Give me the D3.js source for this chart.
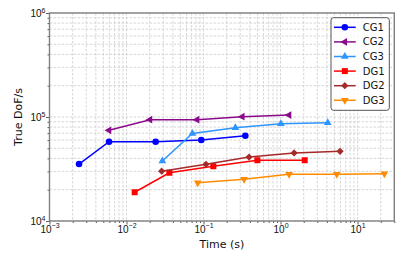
<!DOCTYPE html>
<html>
<head>
<meta charset="utf-8">
<script src="https://cdn.jsdelivr.net/npm/d3@7"></script>
<style>
  body { margin: 0; background: #fff; }
  svg { display: block; font-family: 'DejaVu Sans', sans-serif; }
</style>
</head>
<body>
<div id="chart"></div>
<script>
const WIDTH = 415
const HEIGHT = 260
const margin = { top: 13, right: 20.7, bottom: 39, left: 49.5 }

// data (time in s, true DoF/s)
const seriesNames = ['CG1', 'CG2', 'CG3', 'DG1', 'DG2', 'DG3']
const seriesColors = ['#0000ff', '#8b0a8b', '#2e95ff', '#ff0000', '#a52a2a', '#ff8c00']
const seriesMarkers = ['circle', 'left', 'up', 'square', 'diamond', 'down']

const cg1Time = [0.00242, 0.00593, 0.0239, 0.0935, 0.349]
const cg1Dofs = [35300, 57800, 57800, 60100, 66100]
const cg2Time = [0.00593, 0.0202, 0.0825, 0.319, 1.29]
const cg2Dofs = [74500, 94200, 94200, 100700, 104500]
const cg3Time = [0.0292, 0.0716, 0.259, 1.01, 4.10]
const cg3Dofs = [37800, 69300, 78900, 86300, 88200]
const dg1Time = [0.01276, 0.0360, 0.134, 0.500, 2.06]
const dg1Dofs = [18900, 29100, 33600, 38400, 38400]
const dg2Time = [0.0286, 0.1076, 0.390, 1.50, 5.93]
const dg2Dofs = [30100, 35100, 41200, 45100, 46800]
const dg3Time = [0.0841, 0.336, 1.29, 5.37, 22.3]
const dg3Dofs = [23300, 25200, 28100, 28100, 28500]

const seriesTime = [cg1Time, cg2Time, cg3Time, dg1Time, dg2Time, dg3Time]
const seriesDofs = [cg1Dofs, cg2Dofs, cg3Dofs, dg1Dofs, dg2Dofs, dg3Dofs]

const xTicks = [1e-3, 1e-2, 1e-1, 1e0, 1e1]
const xTickExps = ['\u22123', '\u22122', '\u22121', '0', '1']
const yTicks = [1e4, 1e5, 1e6]
const yTickExps = ['4', '5', '6']

const svg = d3.select('#chart').append('svg')
  .attr('width', WIDTH)
  .attr('height', HEIGHT)

const x = d3.scaleLog().domain([1e-3, 30]).range([margin.left, WIDTH - margin.right])
const y = d3.scaleLog().domain([1e4, 1e6]).range([HEIGHT - margin.bottom, margin.top])

// minor tick values for a log axis
const minorValues = (lo, hi) => {
  const out = []
  for (let e = Math.floor(Math.log10(lo)); e <= Math.ceil(Math.log10(hi)); e++) {
    for (let m = 2; m <= 9; m++) {
      const v = m * Math.pow(10, e)
      if (v >= lo && v <= hi) out.push(v)
    }
  }
  return out
}
const xMinor = minorValues(1e-3, 30)
const yMinor = minorValues(1e4, 1e6)

// grid, both major and minor
const grid = svg.append('g').attr('stroke', '#cccccc').attr('stroke-width', 0.8)
  .attr('stroke-dasharray', '2.5,1.5')
grid.selectAll('.gx').data(xTicks.concat(xMinor)).enter().append('line')
  .attr('x1', d => x(d)).attr('x2', d => x(d))
  .attr('y1', margin.top).attr('y2', HEIGHT - margin.bottom)
grid.selectAll('.gy').data(yTicks.concat(yMinor)).enter().append('line')
  .attr('y1', d => y(d)).attr('y2', d => y(d))
  .attr('x1', margin.left).attr('x2', WIDTH - margin.right)

// axes
const xAxis = svg.append('g')
  .attr('transform', `translate(0,${HEIGHT - margin.bottom})`)
  .call(d3.axisBottom(x).tickValues(xTicks).tickSize(3.5).tickFormat(''))
const xAxisMinor = svg.append('g')
  .attr('transform', `translate(0,${HEIGHT - margin.bottom})`)
  .call(d3.axisBottom(x).tickValues(xMinor).tickSize(2).tickFormat(''))
const yAxis = svg.append('g')
  .attr('transform', `translate(${margin.left},0)`)
  .call(d3.axisLeft(y).tickValues(yTicks).tickSize(3.5).tickFormat(''))
const yAxisMinor = svg.append('g')
  .attr('transform', `translate(${margin.left},0)`)
  .call(d3.axisLeft(y).tickValues(yMinor).tickSize(2).tickFormat(''))
;[xAxis, xAxisMinor, yAxis, yAxisMinor].forEach(g => {
  g.select('.domain').remove()
  g.selectAll('.tick line').attr('stroke', '#333').attr('stroke-width', 0.8)
})

// tick labels with superscripts
xAxis.selectAll('.tick').append('text')
  .attr('y', 11.5).attr('text-anchor', 'middle').attr('fill', '#111')
  .attr('font-size', 10)
  .each(function (d, i) {
    const t = d3.select(this)
    t.append('tspan').text('10')
    t.append('tspan').attr('dy', -4.2).attr('font-size', 7).text(xTickExps[i])
  })
yAxis.selectAll('.tick').append('text')
  .attr('x', -4).attr('dy', '0.35em').attr('text-anchor', 'end').attr('fill', '#111')
  .attr('font-size', 10)
  .each(function (d, i) {
    const t = d3.select(this)
    t.append('tspan').text('10')
    t.append('tspan').attr('dy', -4.2).attr('font-size', 7).text(yTickExps[i])
  })

// frame
svg.append('rect')
  .attr('x', margin.left).attr('y', margin.top)
  .attr('width', WIDTH - margin.left - margin.right)
  .attr('height', HEIGHT - margin.top - margin.bottom)
  .attr('fill', 'none').attr('stroke', '#808080').attr('stroke-width', 1.4)

// axis titles
svg.append('text')
  .attr('x', (margin.left + WIDTH - margin.right) / 2).attr('y', 248)
  .attr('text-anchor', 'middle').attr('font-size', 11).attr('fill', '#111')
  .text('Time (s)')
svg.append('text')
  .attr('transform', `translate(22,${(margin.top + HEIGHT - margin.bottom) / 2}) rotate(-90)`)
  .attr('text-anchor', 'middle').attr('font-size', 11).attr('fill', '#111')
  .text('True DoF/s')

// marker shapes
const markerPath = (kind) => {
  switch (kind) {
    case 'circle': return { d: d3.symbol(d3.symbolCircle, 34)(), rot: 0 }
    case 'square': return { d: d3.symbol(d3.symbolSquare, 36)(), rot: 0 }
    case 'diamond': return { d: d3.symbol(d3.symbolSquare, 26)(), rot: 45 }
    case 'up': return { d: d3.symbol(d3.symbolTriangle, 26)(), rot: 0 }
    case 'down': return { d: d3.symbol(d3.symbolTriangle, 26)(), rot: 180 }
    case 'left': return { d: d3.symbol(d3.symbolTriangle, 26)(), rot: -90 }
  }
}

const line = d3.line().x(d => x(d[0])).y(d => y(d[1]))

seriesNames.forEach((name, i) => {
  const pts = seriesTime[i].map((t, j) => [t, seriesDofs[i][j]])
  const g = svg.append('g').attr('class', 'series')
  g.append('path')
    .attr('d', line(pts))
    .attr('fill', 'none')
    .attr('stroke', seriesColors[i])
    .attr('stroke-width', 1.5)
  const m = markerPath(seriesMarkers[i])
  g.selectAll('path.mark').data(pts).enter().append('path')
    .attr('class', 'mark')
    .attr('d', m.d)
    .attr('transform', d => `translate(${x(d[0])},${y(d[1])}) rotate(${m.rot})`)
    .attr('fill', seriesColors[i])
})

// legend
const legend = svg.append('g').attr('transform', 'translate(331,17.7)')
legend.append('rect')
  .attr('width', 58.3).attr('height', 92.6).attr('rx', 2.5)
  .attr('fill', 'rgba(255,255,255,0.85)').attr('stroke', '#555').attr('stroke-width', 1)
seriesNames.forEach((name, i) => {
  const ly = 9.6 + i * 14.6
  const row = legend.append('g').attr('transform', `translate(0,${ly})`)
  row.append('line').attr('x1', 3).attr('x2', 24.7)
    .attr('stroke', seriesColors[i]).attr('stroke-width', 1.5)
  const m = markerPath(seriesMarkers[i])
  row.append('path').attr('d', m.d)
    .attr('transform', `translate(13.8,0) rotate(${m.rot})`)
    .attr('fill', seriesColors[i])
  row.append('text').attr('x', 31.7).attr('dy', '0.35em')
    .attr('font-size', 10).attr('fill', '#111').text(name)
})
</script>
</body>
</html>
